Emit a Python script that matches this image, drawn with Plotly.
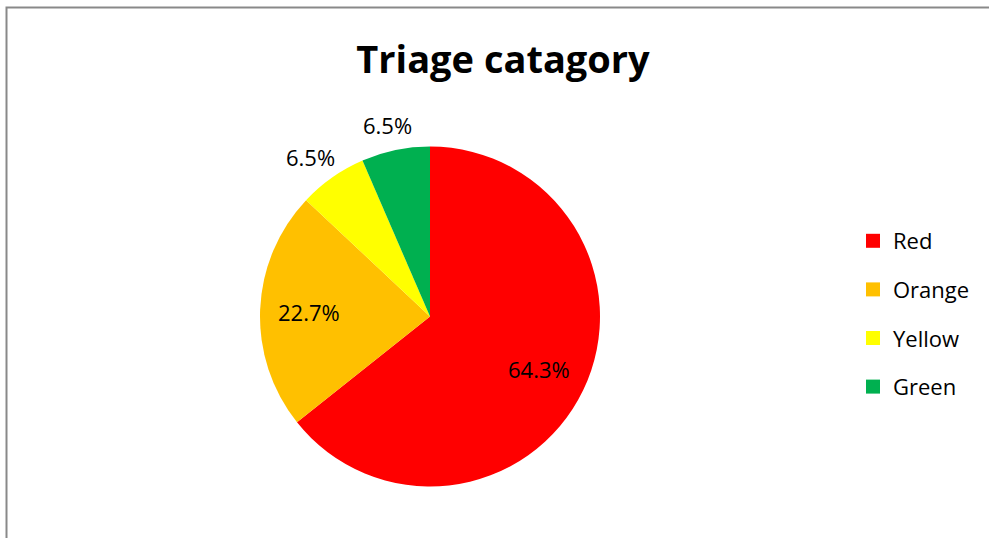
import math
import plotly.graph_objects as go

categories = ["Red", "Orange", "Yellow", "Green"]
values = [64.3, 22.7, 6.5, 6.5]
colors = ["#FF0000", "#FFC000", "#FFFF00", "#00B050"]
label_inside = [True, True, False, False]

W, H = 989, 538
cx, cy, r = 430, 316.5, 170
FONT = "Open Sans"

fig = go.Figure()
fig.add_trace(go.Pie(
    labels=categories, values=values, sort=False, direction="clockwise", rotation=0,
    marker=dict(colors=colors, line=dict(width=0)),
    textinfo="none",
    domain=dict(x=[(cx - r) / W, (cx + r) / W], y=[1 - (cy + r) / H, 1 - (cy - r) / H]),
    showlegend=False, hoverinfo="label+percent",
))

# data labels placed along each slice's mid-angle (clockwise from 12 o'clock)
total = sum(values)
annotations = []
cum = 0.0
for v, inside in zip(values, label_inside):
    mid = (cum + v / 2) / total * 2 * math.pi
    cum += v
    d = r * (0.71 if inside else 1.15)
    px = cx + d * math.sin(mid)
    py = cy - d * math.cos(mid)
    if not inside:
        px -= 6 * abs(math.sin(mid)) / 0.5
    annotations.append(dict(
        x=px / W, y=1 - py / H, xref="paper", yref="paper",
        text=f"{v / total * 100:.1f}%", showarrow=False,
        xanchor="center", yanchor="middle",
        font=dict(family=FONT, size=22, color="#000000"),
    ))

# legend entries (one per category)
for name, col in zip(categories, colors):
    fig.add_trace(go.Scatter(
        x=[None], y=[None], mode="markers", name=name, legendgroup=name,
        marker=dict(symbol="square", size=14, color=col),
    ))

fig.update_layout(
    width=W, height=H,
    margin=dict(l=0, r=0, t=0, b=0),
    paper_bgcolor="white", plot_bgcolor="white",
    xaxis=dict(visible=False), yaxis=dict(visible=False),
    title=dict(text="<b>Triage catagory</b>", x=503 / W, xanchor="center",
               y=1 - 60 / H, yanchor="middle",
               font=dict(family=FONT, size=38, color="#000000")),
    legend=dict(x=853 / W, xanchor="left", y=1 - 220 / H, yanchor="top",
                font=dict(family=FONT, size=22, color="#000000"),
                tracegroupgap=17, bgcolor="rgba(0,0,0,0)"),
    annotations=annotations,
    shapes=[dict(type="rect", xref="paper", yref="paper",
                 x0=6.5 / W, x1=1.02, y0=-0.02, y1=1 - 7.5 / H,
                 line=dict(color="#898989", width=2), fillcolor="rgba(0,0,0,0)")],
)

fig.write_html("out.html")
